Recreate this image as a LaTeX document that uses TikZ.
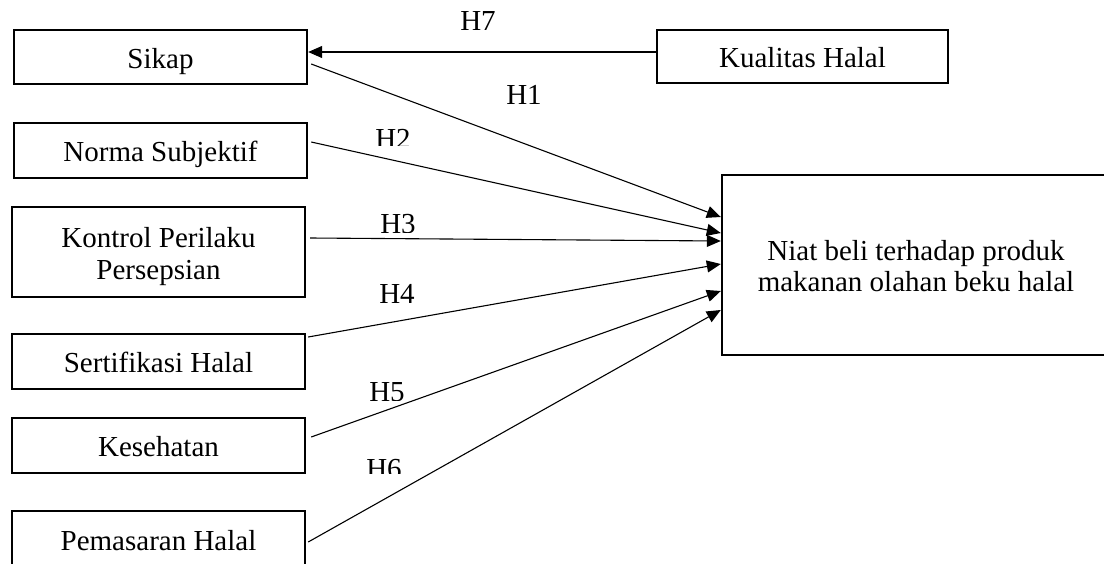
\documentclass[tikz,border=0pt]{standalone}
\usepackage{fontspec}
\setmainfont{Liberation Serif}
\usetikzlibrary{arrows.meta}
\tikzset{
  box/.style={draw, line width=2.4pt, inner sep=0pt, align=center,
    text height=22pt, text depth=0pt,
    font=\fontsize{29}{32}\selectfont},
  lbl/.style={inner sep=0pt, font=\fontsize{29}{32}\selectfont},
  conn/.style={line width=1.1pt, -{Triangle[length=14pt,width=12pt]}}
}
\begin{document}
\begin{tikzpicture}[x=1pt,y=-1pt]
\path[use as bounding box] (0,0) rectangle (1104,563);
\clip (0,0) rectangle (1104,563);
% boxes
\node[box, minimum width=293pt, minimum height=54pt] (sikap) at (160.5,57) {Sikap};
\node[box, minimum width=291pt, minimum height=53pt] (kual) at (802.5,56.5) {Kualitas Halal};
\node[box, minimum width=293pt, minimum height=55pt] (norma) at (160.5,150.5) {Norma Subjektif};
\node[box, minimum width=293pt, minimum height=90pt, text height=54pt] (kontrol) at (158.5,252) {Kontrol Perilaku\\Persepsian};
\node[box, minimum width=293pt, minimum height=55pt] (sert) at (158.5,361.5) {Sertifikasi Halal};
\node[box, minimum width=293pt, minimum height=55pt] (kes) at (158.5,445.5) {Kesehatan};
\node[box, minimum width=293pt, minimum height=56pt] (pem) at (158.5,539) {Pemasaran Halal};
\node[box, minimum width=388pt, minimum height=180pt, text height=53pt, font=\fontsize{29}{31}\selectfont] (niat) at (916,265) {Niat beli terhadap produk\\makanan olahan beku halal};
% connectors
\draw[conn] ([yshift=4.5pt]kual.west) -- ([yshift=5pt]sikap.east);
\draw[conn] ([xshift=3pt,yshift=-7pt]sikap.east) -- ([yshift=48pt]niat.west);
\draw[conn] ([xshift=3pt,yshift=8.5pt]norma.east) -- ([yshift=32pt]niat.west);
\draw[conn] ([xshift=4pt,yshift=14pt]kontrol.east) -- ([yshift=24pt]niat.west);
\draw[conn] ([xshift=2pt,yshift=24.5pt]sert.east) -- ([yshift=1pt]niat.west);
\draw[conn] ([xshift=5pt,yshift=8.5pt]kes.east) -- ([yshift=-26pt]niat.west);
\draw[conn] ([xshift=2pt,yshift=-3pt]pem.east) -- ([yshift=-45pt]niat.west);
% labels
\node[lbl] (h7) at (478,21) {H7};
\node[lbl] (h1) at (524,95) {H1};
\begin{scope}
\clip (300,100) rectangle (500,145);
\node[lbl] (h2) at (393,139) {H2};
\end{scope}
\begin{scope}
\clip (300,190) rectangle (500,232);
\node[lbl] (h3) at (398,224) {H3};
\end{scope}
\node[lbl] (h4) at (397,294) {H4};
\begin{scope}
\clip (300,360) rectangle (500,400);
\node[lbl] (h5) at (387,392) {H5};
\end{scope}
\begin{scope}
\clip (300,440) rectangle (500,473);
\node[lbl] (h6) at (384,469) {H6};
\end{scope}
\end{tikzpicture}
\end{document}
